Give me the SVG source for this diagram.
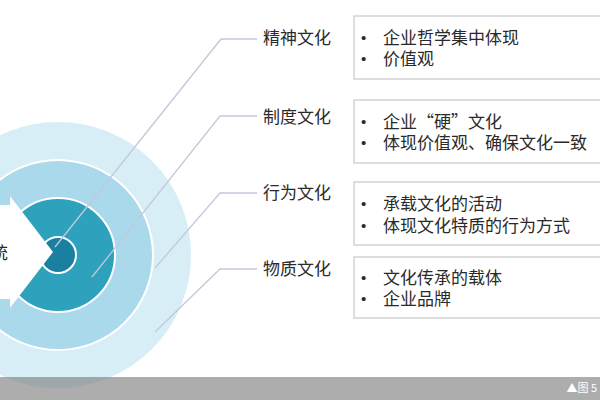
<svg xmlns="http://www.w3.org/2000/svg" width="600" height="400" viewBox="0 0 600 400">
  <style>
    .lbl { font-family: "Noto Sans CJK SC", "Liberation Sans", sans-serif; font-size: 17px; fill: #2a2a2a; }
    .bul { font-family: "Liberation Sans", "DejaVu Sans", sans-serif; font-size: 15px; fill: #2a2a2a; }
    .box { fill: #ffffff; stroke: #d3d3d3; stroke-width: 1.5; }
    .conn { fill: none; stroke: #c3c8dc; stroke-width: 1.3; }
    .ring { stroke: #ffffff; stroke-width: 2; }
  </style>
  <rect x="0" y="0" width="600" height="400" fill="#ffffff"/>
  <g id="rings">
    <circle class="ring" cx="58" cy="255" r="134" fill="#d7eef6"/>
    <circle class="ring" cx="58" cy="255" r="95" fill="#a9d9eb"/>
    <circle class="ring" cx="58" cy="255" r="57" fill="#2ea2bd"/>
    <circle class="ring" cx="58" cy="255" r="18" fill="#1b7fa0"/>
  </g>
  <g id="arrow">
    <polygon points="-60,205 10,205 10,196 53,252 10,308 10,299 -60,299" fill="#ffffff"/>
    <text class="lbl" x="8" y="259" text-anchor="end">统</text>
  </g>
  <g id="connectors">
    <polyline class="conn" points="55,247 221,39 257,39"/>
    <polyline class="conn" points="92,277 220,116 257,116"/>
    <polyline class="conn" points="155,268 220,193 257,193"/>
    <polyline class="conn" points="155,332 220,269 257,269"/>
  </g>
  <g id="node1">
    <text class="lbl" x="263" y="44">精神文化</text>
    <rect class="box" x="354" y="16" width="260" height="63"/>
    <text class="bul" x="361" y="43">•</text>
    <text class="lbl" x="383" y="44">企业哲学集中体现</text>
    <text class="bul" x="361" y="64">•</text>
    <text class="lbl" x="383" y="65">价值观</text>
  </g>
  <g id="node2">
    <text class="lbl" x="263" y="123">制度文化</text>
    <rect class="box" x="354" y="100" width="260" height="63"/>
    <text class="bul" x="361" y="127">•</text>
    <text class="lbl" x="383" y="128">企业“硬”文化</text>
    <text class="bul" x="361" y="148">•</text>
    <text class="lbl" x="383" y="149">体现价值观、确保文化一致</text>
  </g>
  <g id="node3">
    <text class="lbl" x="263" y="199">行为文化</text>
    <rect class="box" x="354" y="182" width="260" height="63"/>
    <text class="bul" x="361" y="209">•</text>
    <text class="lbl" x="383" y="210">承载文化的活动</text>
    <text class="bul" x="361" y="231">•</text>
    <text class="lbl" x="383" y="232">体现文化特质的行为方式</text>
  </g>
  <g id="node4">
    <text class="lbl" x="263" y="275">物质文化</text>
    <rect class="box" x="354" y="257" width="260" height="61"/>
    <text class="bul" x="361" y="283">•</text>
    <text class="lbl" x="383" y="284">文化传承的载体</text>
    <text class="bul" x="361" y="304">•</text>
    <text class="lbl" x="383" y="305">企业品牌</text>
  </g>
  <g id="footer">
    <rect x="0" y="377" width="600" height="23" fill="#7a7a7a" fill-opacity="0.62"/>
    <text x="597" y="392" text-anchor="end" font-family="Noto Sans CJK SC, Liberation Sans, sans-serif" font-size="11" fill="#ffffff">▲图 5</text>
  </g>
</svg>
